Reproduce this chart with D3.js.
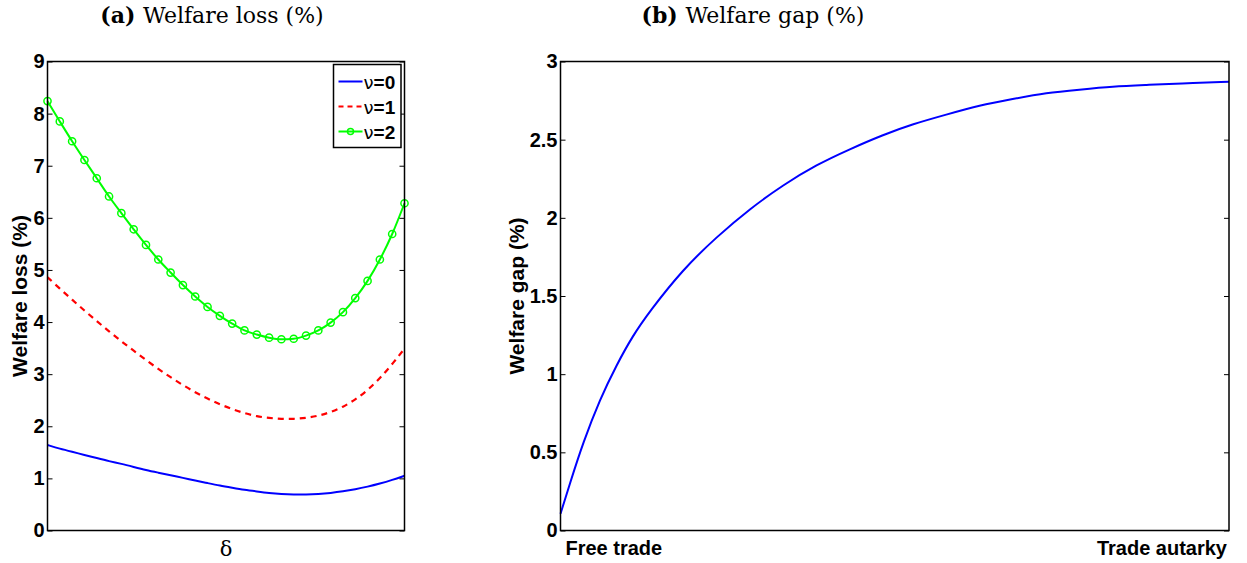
<!DOCTYPE html>
<html>
<head>
<meta charset="utf-8">
<script src="https://cdnjs.cloudflare.com/ajax/libs/d3/7.8.5/d3.min.js"></script>
<style>
  body { margin: 0; background: #fff; }
  .tick text { font-family: "Liberation Sans", Arial, sans-serif; font-weight: bold; }
</style>
</head>
<body>
<svg id="chart" width="1247" height="563"></svg>
<script>
// left panel: welfare loss against delta (30 grid points)
var delta = [0, 1, 2, 3, 4, 5, 6, 7, 8, 9, 10, 11, 12, 13, 14, 15, 16, 17, 18, 19,
             20, 21, 22, 23, 24, 25, 26, 27, 28, 29];
var lossNu0 = [1.64, 1.57, 1.51, 1.45, 1.39, 1.33, 1.28, 1.22, 1.16, 1.11, 1.06, 1.01, 0.96, 0.91, 0.86,
               0.82, 0.78, 0.75, 0.72, 0.70, 0.69, 0.69, 0.70, 0.72, 0.75, 0.79, 0.84, 0.90, 0.97, 1.05];
var lossNu1 = [4.86, 4.64, 4.43, 4.22, 4.02, 3.82, 3.63, 3.45, 3.27, 3.10, 2.94, 2.79, 2.65, 2.53, 2.42,
               2.33, 2.25, 2.19, 2.16, 2.14, 2.14, 2.16, 2.20, 2.27, 2.37, 2.51, 2.69, 2.92, 3.19, 3.49];
var lossNu2 = [8.24, 7.85, 7.47, 7.11, 6.76, 6.41, 6.09, 5.78, 5.48, 5.20, 4.95, 4.71, 4.49, 4.29, 4.12,
               3.97, 3.84, 3.76, 3.70, 3.67, 3.68, 3.74, 3.84, 3.99, 4.19, 4.46, 4.79, 5.20, 5.69, 6.28];
var lossTicks = [0, 1, 2, 3, 4, 5, 6, 7, 8, 9];
var seriesNames = ["\u03bd=0", "\u03bd=1", "\u03bd=2"];

// right panel: welfare gap from free trade (0) to autarky (1)
var tradeCost = [0, 0.014, 0.034, 0.059, 0.084, 0.108, 0.133, 0.183, 0.234, 0.284, 0.333, 0.383,
                 0.433, 0.482, 0.527, 0.577, 0.627, 0.676, 0.727, 0.776, 0.826, 0.877, 0.926, 1.0];
var welfareGap = [0.107, 0.30, 0.565, 0.84, 1.06, 1.245, 1.40, 1.67, 1.88, 2.06, 2.21, 2.34,
                  2.44, 2.53, 2.60, 2.66, 2.72, 2.76, 2.80, 2.82, 2.84, 2.85, 2.86, 2.87];
var gapTicks = [0, 0.5, 1, 1.5, 2, 2.5, 3];
var gapXLabels = ["Free trade", "Trade autarky"];

var svg = d3.select("#chart");
var sans = "Liberation Sans, Arial, sans-serif";

function drawFrame(g, x, y, ticks, fmt) {
  var w = x.range()[1], h = y.range()[0];
  var left = d3.axisLeft(y).tickValues(ticks).tickSize(-5).tickPadding(3).tickFormat(fmt);
  var right = d3.axisRight(y).tickValues(ticks).tickSize(-5).tickFormat("");
  var ga = g.append("g").call(left);
  ga.selectAll("text").attr("font-size", 20).attr("fill", "#000");
  g.append("g").attr("transform", "translate(" + w + ",0)").call(right);
  g.selectAll(".domain").remove();
  g.selectAll(".tick line").attr("stroke", "#000");
  g.append("rect").attr("x", 0).attr("y", 0).attr("width", w).attr("height", h)
    .attr("fill", "none").attr("stroke", "#000").attr("stroke-width", 1.5);
}

// ---------- panel (a)
var ga = svg.append("g").attr("transform", "translate(47.5,61.5)");
var xa = d3.scaleLinear().domain([0, 29]).range([0, 357]);
var ya = d3.scaleLinear().domain([0, 9]).range([469, 0]);

var smooth = d3.line().x(function(d, i) { return xa(delta[i]); }).y(function(d) { return ya(d); })
  .curve(d3.curveBasis);
var linea = d3.line().x(function(d, i) { return xa(delta[i]); }).y(function(d) { return ya(d); })
  .curve(d3.curveMonotoneX);

ga.append("path").datum(lossNu0).attr("d", smooth).attr("fill", "none")
  .attr("stroke", "#0000ff").attr("stroke-width", 2);
ga.append("path").datum(lossNu1).attr("d", smooth).attr("fill", "none")
  .attr("stroke", "#ff0000").attr("stroke-width", 2.2).attr("stroke-dasharray", "6,5");
ga.append("path").datum(lossNu2).attr("d", linea).attr("fill", "none")
  .attr("stroke", "#00ff00").attr("stroke-width", 2);
ga.selectAll("circle.mk").data(lossNu2).enter().append("circle").attr("class", "mk")
  .attr("cx", function(d, i) { return xa(delta[i]); }).attr("cy", function(d) { return ya(d); })
  .attr("r", 3.6).attr("fill", "none").attr("stroke", "#00ff00").attr("stroke-width", 1.5);

drawFrame(ga, xa, ya, lossTicks, d3.format("d"));

// legend
var lg = ga.append("g").attr("transform", "translate(286,3)");
lg.append("rect").attr("width", 67.5).attr("height", 83).attr("fill", "#fff")
  .attr("stroke", "#000").attr("stroke-width", 1.5);
var styles = [
  { c: "#0000ff", dash: null },
  { c: "#ff0000", dash: "5,4" },
  { c: "#00ff00", dash: null, marker: true }
];
seriesNames.forEach(function(name, i) {
  var yy = 17 + i * 25;
  lg.append("line").attr("x1", 5).attr("x2", 29).attr("y1", yy).attr("y2", yy)
    .attr("stroke", styles[i].c).attr("stroke-width", 2)
    .attr("stroke-dasharray", styles[i].dash);
  if (styles[i].marker) {
    lg.append("circle").attr("cx", 17).attr("cy", yy).attr("r", 3)
      .attr("fill", "none").attr("stroke", styles[i].c).attr("stroke-width", 1.5);
  }
  var t = lg.append("text").attr("x", 30).attr("y", yy + 7).attr("font-size", 19)
    .attr("font-family", sans).attr("font-weight", "bold");
  t.append("tspan").attr("font-weight", "normal").attr("font-family", "DejaVu Sans, sans-serif")
    .attr("font-size", 18).text(name.charAt(0));
  t.append("tspan").text(name.slice(1));
});

ga.append("text").attr("transform", "translate(-21,234.5) rotate(-90)")
  .attr("text-anchor", "middle").attr("font-family", sans)
  .attr("font-weight", "bold").attr("font-size", 21).text("Welfare loss (%)");
ga.append("text").attr("x", 178.5).attr("y", 494).attr("text-anchor", "middle")
  .attr("font-family", "DejaVu Serif, serif").attr("font-size", 21).text("\u03b4");

// ---------- panel (b)
var gb = svg.append("g").attr("transform", "translate(560.5,61.5)");
var xb = d3.scaleLinear().domain([0, 1]).range([0, 668.5]);
var yb = d3.scaleLinear().domain([0, 3]).range([469, 0]);

gb.append("path").datum(welfareGap)
  .attr("d", d3.line().x(function(d, i) { return xb(tradeCost[i]); }).y(function(d) { return yb(d); })
    .curve(d3.curveBasis))
  .attr("fill", "none").attr("stroke", "#0000ff").attr("stroke-width", 2);

drawFrame(gb, xb, yb, gapTicks, function(d) { return d3.format("")(d); });

gb.append("text").attr("x", xb(0) + 5).attr("y", 493).attr("font-size", 20)
  .attr("font-family", sans).attr("font-weight", "bold")
  .text(gapXLabels[0]);
gb.append("text").attr("x", xb(1) - 2).attr("y", 493).attr("text-anchor", "end").attr("font-size", 20)
  .attr("font-family", sans).attr("font-weight", "bold")
  .text(gapXLabels[1]);
gb.append("text").attr("transform", "translate(-37,234.5) rotate(-90)")
  .attr("text-anchor", "middle").attr("font-family", sans)
  .attr("font-weight", "bold").attr("font-size", 21).text("Welfare gap (%)");

// ---------- titles
function title(x, label, rest) {
  var t = svg.append("text").attr("x", x).attr("y", 23).attr("text-anchor", "middle")
    .attr("font-family", "DejaVu Serif, 'Liberation Serif', serif").attr("font-size", 22);
  t.append("tspan").attr("font-weight", "bold").text(label + " ");
  t.append("tspan").text(rest);
}
title(212, "(a)", "Welfare loss (%)");
title(753, "(b)", "Welfare gap (%)");
</script>
</body>
</html>
